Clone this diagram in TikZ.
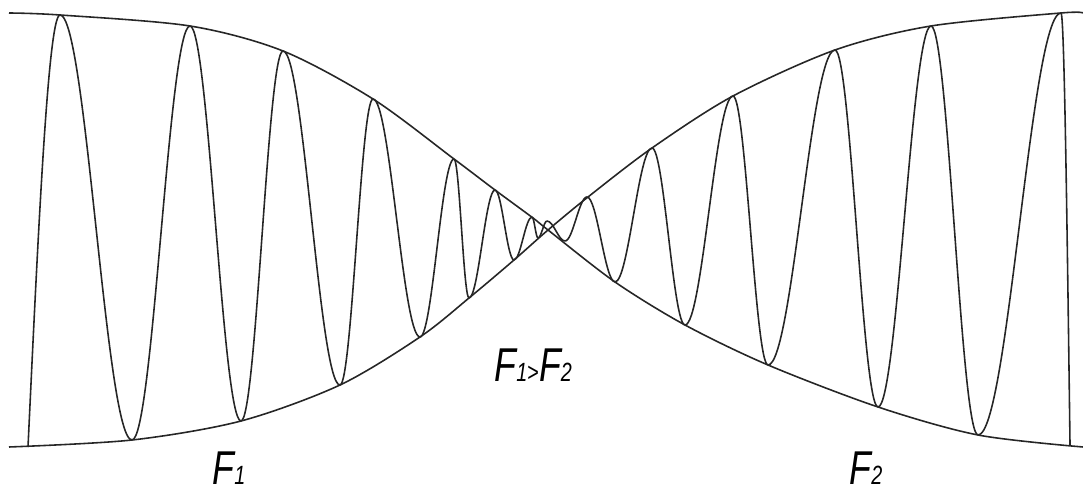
\documentclass[tikz,border=0pt]{standalone}
\usepackage{fontspec}
\newfontfamily\flabelfont{Liberation Sans}
\usetikzlibrary{positioning}
\newcommand{\fsub}[1]{F{\fontsize{7.5}{9}\selectfont #1}}
\tikzset{
  envelope/.style={line width=0.45pt, black!85},
  wave/.style={line width=0.45pt, black!85},
  flabel/.style={font=\flabelfont\itshape\fontsize{13.5}{15}\selectfont,
                 inner sep=0pt, anchor=base west}
}

\begin{document}
\begin{tikzpicture}[x=0.01cm, y=-0.01cm]
  \useasboundingbox (0,0) rectangle (1083,492);

  % envelopes
  \draw[envelope] plot[smooth] coordinates {(9,13) (60,15) (190,26) (283,51)
    (373,99) (454,159) (495,190) (533,218) (548,230) (615,282) (685,325)
    (768,365) (878,407) (978,435) (1083,447)};
  \draw[envelope] plot[smooth] coordinates {(9,447) (132,440) (241,421)
    (340,385) (420,337) (469,298) (514,260) (548,230) (588,197) (652,148)
    (733,96) (835,50) (931,26) (1061,13) (1083,13)};

  % oscillation
  \draw[wave] (28,447) sin (60,15);
  \foreach \xa/\ya/\xb/\yb in {60/15/132/440, 132/440/190/26, 190/26/241/421,
      241/421/283/51, 283/51/340/385, 340/385/373/99, 373/99/420/337,
      420/337/454/159, 454/159/469/298, 469/298/495/190, 495/190/514/260,
      514/260/532/217, 532/217/538/238, 538/238/547/221, 547/221/565/241,
      565/241/587/197, 587/197/615/282, 615/282/652/148, 652/148/685/325,
      685/325/733/96, 733/96/768/365, 768/365/835/50, 835/50/878/407,
      878/407/931/26, 931/26/978/435, 978/435/1061/13} {
    \draw[wave] (\xa,\ya) cos ({(\xa+\xb)/2},{(\ya+\yb)/2}) sin (\xb,\yb);
  }
  \draw[wave] (1061,13) cos (1070,445);

  % labels
  \node[flabel] (lblF1) at (212,485) {\scalebox{0.75}[1]{\fsub{1}}};
  \node[flabel] (lblF2) at (849,485) {\scalebox{0.75}[1]{\fsub{2}}};
  \node[flabel] (lblCmp) at (494,382)
    {\scalebox{0.75}[1]{\fsub{1}{\fontsize{7.5}{9}\selectfont\upshape >}\fsub{2}}};
\end{tikzpicture}
\end{document}
